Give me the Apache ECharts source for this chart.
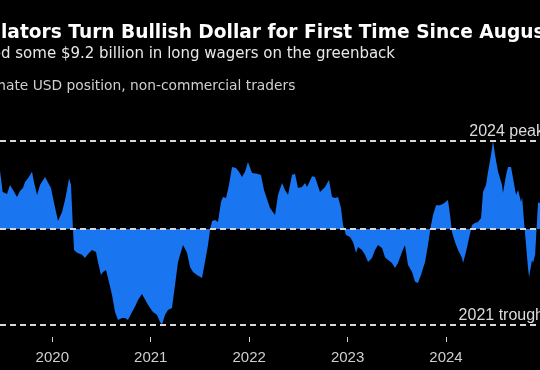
<!DOCTYPE html>
<html>
<head>
<meta charset="utf-8">
<script src="https://cdn.jsdelivr.net/npm/echarts@6/dist/echarts.min.js"></script>
<style>
html,body{margin:0;padding:0;background:#000;}
#chart{width:540px;height:370px;}
</style>
</head>
<body>
<div id="chart"></div>
<script>
// ---- data (decimal years, net USD position in $bn) ----
const dates = [
2019.438,2019.469,2019.496,2019.519,2019.540,2019.570,2019.601,2019.641,2019.672,2019.702,
2019.723,2019.753,2019.794,2019.814,2019.845,2019.875,2019.926,2019.946,2019.987,2020.007,
2020.038,2020.058,2020.099,2020.129,2020.149,2020.170,2020.190,2020.210,2020.221,2020.251,
2020.302,2020.332,2020.363,2020.403,2020.444,2020.464,2020.495,2020.515,2020.546,2020.566,
2020.607,2020.637,2020.668,2020.708,2020.739,2020.769,2020.810,2020.840,2020.871,2020.911,
2020.962,2020.993,2021.023,2021.064,2021.094,2021.115,2021.145,2021.175,2021.216,2021.247,
2021.277,2021.298,2021.328,2021.369,2021.399,2021.430,2021.470,2021.521,2021.551,2021.582,
2021.602,2021.623,2021.653,2021.683,2021.714,2021.734,2021.765,2021.795,2021.826,2021.866,
2021.897,2021.927,2021.958,2021.988,2022.029,2022.080,2022.120,2022.151,2022.191,2022.212,
2022.263,2022.293,2022.334,2022.364,2022.395,2022.435,2022.466,2022.496,2022.537,2022.568,
2022.588,2022.639,2022.669,2022.720,2022.771,2022.811,2022.842,2022.872,2022.903,2022.933,
2022.954,2022.984,2023.025,2023.055,2023.086,2023.106,2023.146,2023.177,2023.208,2023.248,
2023.279,2023.309,2023.350,2023.380,2023.411,2023.451,2023.482,2023.512,2023.553,2023.583,
2023.614,2023.655,2023.685,2023.715,2023.746,2023.787,2023.817,2023.848,2023.868,2023.899,
2023.939,2023.980,2024.020,2024.041,2024.061,2024.091,2024.122,2024.163,2024.173,2024.203,
2024.234,2024.264,2024.295,2024.325,2024.356,2024.376,2024.406,2024.427,2024.457,2024.478,
2024.498,2024.529,2024.569,2024.579,2024.610,2024.630,2024.661,2024.681,2024.712,2024.732,
2024.742,2024.762,2024.773,2024.793,2024.813,2024.833,2024.844,2024.874,2024.884,2024.905,
2024.935,2024.966
];
const positions = [
22.5,20.4,13.0,12.7,12.3,15.5,13.7,11.3,13.4,14.4,
16.5,17.9,20.1,16.5,12.0,15.5,18.3,17.9,14.4,10.9,
6.0,2.8,6.0,10.2,13.7,17.9,15.5,0.0,-7.4,-8.4,
-9.1,-10.2,-8.8,-7.4,-8.1,-11.6,-16.2,-15.1,-14.4,-17.2,
-23.2,-29.2,-32.0,-31.3,-31.3,-32.0,-29.2,-27.4,-25.0,-22.9,
-26.0,-27.8,-29.2,-30.3,-32.7,-33.6,-30.3,-28.5,-27.8,-19.7,
-11.6,-9.1,-5.6,-8.4,-13.4,-15.1,-16.2,-17.2,-11.6,-5.6,
-0.4,2.8,3.2,2.5,9.5,11.3,10.9,15.5,21.8,21.5,
20.1,18.3,20.1,23.6,19.7,19.4,19.0,13.7,9.5,7.4,
4.9,12.0,16.2,13.7,12.0,19.0,19.4,14.4,14.8,16.2,
14.8,18.6,18.3,13.0,14.8,17.2,11.3,10.9,11.3,7.4,
1.4,-2.1,-2.8,-4.6,-8.4,-6.3,-7.4,-9.1,-11.6,-10.2,
-7.4,-5.6,-6.7,-9.9,-10.9,-12.0,-13.7,-12.0,-8.1,-5.6,
-12.7,-15.1,-18.6,-19.0,-16.2,-11.6,-5.6,1.4,4.9,8.4,
8.4,9.1,10.2,4.9,-1.1,-4.6,-7.4,-10.2,-12.0,-8.1,
-3.2,1.4,2.1,2.5,3.9,13.0,15.5,20.1,26.0,31.0,
26.0,20.1,15.5,12.7,19.0,21.8,21.8,17.9,12.0,13.7,
13.0,9.5,11.3,2.5,-5.6,-13.7,-16.9,-10.9,-12.0,-9.1,
9.2,9.2
];
const tickYears = [2020, 2021, 2022, 2023, 2024];
const peak2024 = 31.0;
const trough2021 = -33.6;

const titleText = 'Speculators Turn Bullish Dollar for First Time Since August';
const subtitleText = 'Traders added some $9.2 billion in long wagers on the greenback';
const noteText = 'Approximate USD position, non-commercial traders';

const FONT = '"Liberation Sans", Arial, sans-serif';
const HEAD_FONT = '"DejaVu Sans", Verdana, sans-serif';
function textWidth(str, font) {
  const ctx = document.createElement('canvas').getContext('2d');
  ctx.font = font;
  return ctx.measureText(str).width;
}
const titleLeft = 1 - textWidth('Specu', 'bold 18.6px ' + HEAD_FONT);
const subLeft = 1 - textWidth('Traders adde', '15px ' + HEAD_FONT);
const noteLeft = 6 - textWidth('Approxim', '13.8px ' + HEAD_FONT);

const chart = echarts.init(document.getElementById('chart'), null, {renderer: 'canvas'});
const lineStyle = {color: '#d8d8d8', width: 2, type: [6, 4]};
chart.setOption({
  backgroundColor: '#000000',
  animation: false,
  title: [
    {text: titleText, left: titleLeft, top: 24, padding: 0,
     textStyle: {color: '#ffffff', fontSize: 18.6, fontWeight: 'bold', fontFamily: HEAD_FONT}},
    {text: subtitleText, left: subLeft, top: 47, padding: 0,
     textStyle: {color: '#e8e8e8', fontSize: 15, fontWeight: 'normal', fontFamily: HEAD_FONT}},
    {text: noteText, left: noteLeft, top: 79, padding: 0,
     textStyle: {color: '#cfcfcf', fontSize: 13.8, fontWeight: 'normal', fontFamily: HEAD_FONT}}
  ],
  grid: {left: 0, right: 0, top: 121, bottom: 33, containLabel: false},
  xAxis: {
    type: 'value', min: 2019.4687, max: 2024.9549,
    axisLine: {show: false, onZero: false}, splitLine: {show: false},
    axisTick: {show: true, customValues: tickYears, length: 5, lineStyle: {color: '#d0d0d0', width: 1}},
    axisLabel: {show: true, customValues: tickYears, margin: 13, color: '#cfcfcf', fontSize: 15, fontFamily: FONT,
      formatter: v => String(Math.round(v))}
  },
  yAxis: {type: 'value', min: -38, max: 38, show: false},
  series: [{
    type: 'line',
    data: dates.map((d, i) => [d, positions[i]]),
    showSymbol: false,
    symbol: 'none',
    lineStyle: {width: 0},
    areaStyle: {color: '#1a75f0', opacity: 1, origin: 0},
    itemStyle: {color: '#1a75f0'},
    clip: true,
    markLine: {
      silent: true, symbol: 'none', animation: false,
      lineStyle: lineStyle,
      data: [
        {yAxis: 0, label: {show: false}},
        {yAxis: peak2024, label: {show: true, position: 'insideEndTop', formatter: '2024 peak', distance: [-4, 1], color: '#dcdcdc', fontSize: 16, fontFamily: FONT}},
        {yAxis: trough2021, label: {show: true, position: 'insideEndTop', formatter: '2021 trough', distance: [-4, 1], color: '#dcdcdc', fontSize: 16, fontFamily: FONT}}
      ]
    }
  }]
});
</script>
</body>
</html>
